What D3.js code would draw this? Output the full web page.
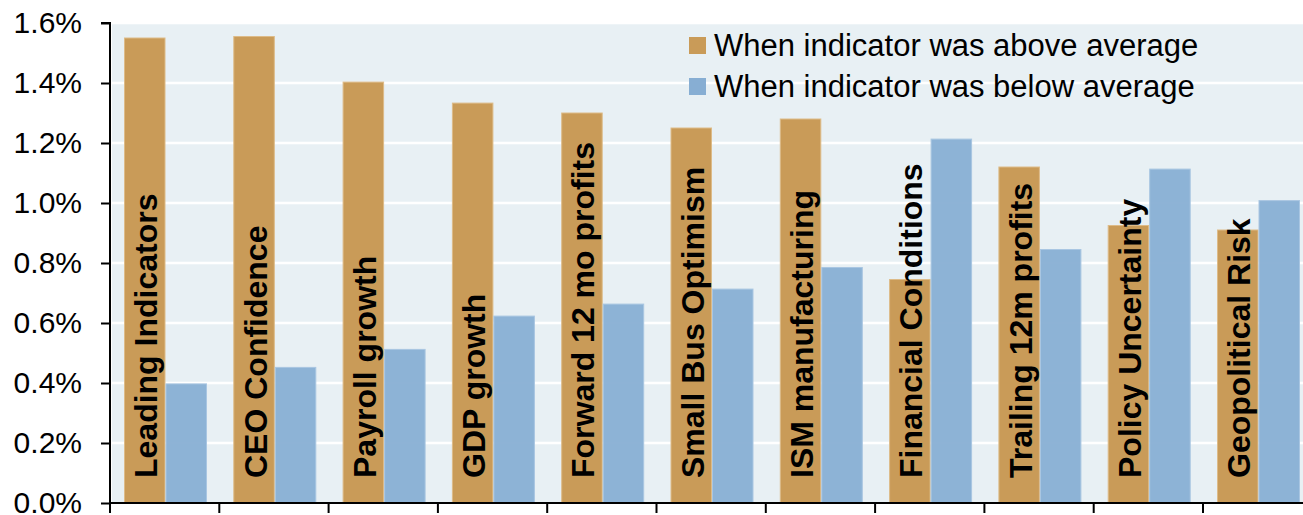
<!DOCTYPE html>
<html>
<head>
<meta charset="utf-8">
<script src="https://cdn.jsdelivr.net/npm/d3@7/dist/d3.min.js"></script>
<style>
  html, body { margin: 0; padding: 0; background: #ffffff; }
  svg { display: block; }
  text { font-family: "Liberation Sans", Arial, sans-serif; }
</style>
</head>
<body>
<svg id="chart" width="1303" height="515"></svg>
<script>
// Indicators and average returns (%) in each regime
const categories = [
  "Leading Indicators", "CEO Confidence", "Payroll growth", "GDP growth",
  "Forward 12 mo profits", "Small Bus Optimism", "ISM manufacturing",
  "Financial Conditions", "Trailing 12m profits", "Policy Uncertainty", "Geopolitical Risk"
];
const aboveAverage = [1.55, 1.555, 1.403, 1.333, 1.30, 1.25, 1.28, 0.745, 1.12, 0.925, 0.91];
const belowAverage = [0.397, 0.452, 0.512, 0.623, 0.663, 0.713, 0.785, 1.213, 0.845, 1.113, 1.008];
const seriesNames = ["When indicator was above average", "When indicator was below average"];
const yTicks = [0, 0.2, 0.4, 0.6, 0.8, 1.0, 1.2, 1.4, 1.6];

const colors = ["#c99b58", "#87aed3"];
const strokes = ["#ddbb88", "#a9c6e2"];

const svg = d3.select("#chart");
const plotLeft = 110, plotTop = 23, plotBottom = 503;
const bandW = 109.3;

const x0 = d3.scaleBand()
  .domain(categories)
  .range([plotLeft, plotLeft + bandW * categories.length])
  .padding(0);
const x1 = d3.scaleBand()
  .domain([0, 1])
  .range([14, 97])
  .padding(0);
const y = d3.scaleLinear().domain([0, 1.6]).range([plotBottom, plotTop]);

// plot background
svg.append("rect")
  .attr("x", plotLeft + 2).attr("y", plotTop)
  .attr("width", 1303 - plotLeft).attr("height", plotBottom - plotTop)
  .attr("fill", "#e8f0f4");

// horizontal gridlines
svg.append("g").selectAll("line")
  .data(yTicks.slice(1))
  .join("line")
  .attr("x1", plotLeft).attr("x2", 1303)
  .attr("y1", d => y(d)).attr("y2", d => y(d))
  .attr("stroke", "#ffffff").attr("stroke-width", 2.5);

const rows = categories.map((c, i) => ({ cat: c, vals: [aboveAverage[i], belowAverage[i]] }));

// bars
const groups = svg.append("g").selectAll("g")
  .data(rows)
  .join("g")
  .attr("transform", d => `translate(${x0(d.cat)},0)`);

groups.selectAll("rect")
  .data(d => d.vals.map((v, k) => ({ v, k })))
  .join("rect")
  .attr("x", d => x1(d.k) + 0.5)
  .attr("y", d => y(d.v))
  .attr("width", x1.bandwidth() - 1)
  .attr("height", d => y(0) - y(d.v))
  .attr("fill", d => colors[d.k])
  .attr("fill-opacity", d => d.k === 1 ? 0.94 : 1)
  .attr("stroke", d => strokes[d.k])
  .attr("stroke-width", 1);

// category names written up the first bar of each group
groups.append("text")
  .attr("transform", d => `translate(${x1(0) + x1.bandwidth() / 2 + 12.5},478) rotate(-90)`)
  .attr("text-anchor", "start")
  .attr("font-size", 32)
  .attr("font-weight", "bold")
  .attr("fill", "#000")
  .text(d => d.cat);

// y axis
const yAxis = d3.axisLeft(y)
  .tickValues(yTicks)
  .tickSize(9)
  .tickPadding(19)
  .tickFormat(d => d.toFixed(1) + "%");
const gy = svg.append("g").attr("transform", `translate(${plotLeft},0)`).call(yAxis);
gy.select(".domain").attr("stroke", "#000").attr("stroke-width", 2)
  .attr("d", `M-9,${plotTop}H0V${plotBottom}`);
gy.selectAll(".tick line").attr("stroke", "#000").attr("stroke-width", 2);
gy.selectAll(".tick text")
  .attr("font-size", 30)
  .attr("font-family", "Liberation Sans, Arial, sans-serif")
  .attr("fill", "#000");

// x axis: boundary ticks between categories
const gx = svg.append("g");
gx.append("line")
  .attr("x1", plotLeft - 1).attr("x2", 1303)
  .attr("y1", plotBottom).attr("y2", plotBottom)
  .attr("stroke", "#000").attr("stroke-width", 2);
gx.selectAll("line.tk")
  .data(categories)
  .join("line")
  .attr("class", "tk")
  .attr("x1", d => x0(d)).attr("x2", d => x0(d))
  .attr("y1", plotBottom).attr("y2", plotBottom + 10)
  .attr("stroke", "#000").attr("stroke-width", 2);

// legend
const legend = svg.append("g").attr("transform", "translate(689,0)");
const legendRows = legend.selectAll("g")
  .data(seriesNames)
  .join("g")
  .attr("transform", (d, i) => `translate(0,${45 + i * 41})`);
legendRows.append("rect")
  .attr("x", 0).attr("y", -8)
  .attr("width", 17).attr("height", 17)
  .attr("fill", (d, i) => colors[i]);
legendRows.append("text")
  .attr("x", 25).attr("y", 0)
  .attr("dy", "0.35em")
  .attr("font-size", 31)
  .attr("fill", "#000")
  .text(d => d);
</script>
</body>
</html>
